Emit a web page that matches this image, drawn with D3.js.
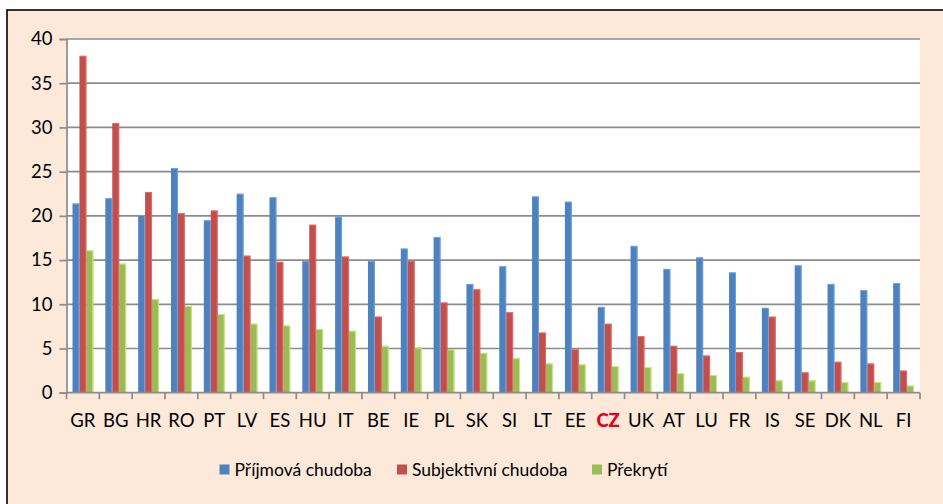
<!DOCTYPE html>
<html>
<head>
<meta charset="utf-8">
<script src="https://cdn.jsdelivr.net/npm/d3@7"></script>
<style>
  html, body { margin: 0; padding: 0; background: #ffffff; }
  svg { display: block; font-family: Lato, "Open Sans", sans-serif; }
</style>
</head>
<body>
<svg id="chart" width="943" height="504"></svg>
<script>
// Countries in display order
const countries = ["GR","BG","HR","RO","PT","LV","ES","HU","IT","BE","IE","PL","SK","SI","LT","EE","CZ","UK","AT","LU","FR","IS","SE","DK","NL","FI"];
// Příjmová chudoba (income poverty), %
const incomePoverty = [21.4,22.0,20.1,25.4,19.5,22.5,22.1,14.9,19.9,14.9,16.3,17.6,12.3,14.3,22.2,21.6,9.7,16.6,14.0,15.3,13.6,9.6,14.4,12.3,11.6,12.4];
// Subjektivní chudoba (subjective poverty), %
const subjectivePoverty = [38.1,30.5,22.7,20.3,20.6,15.5,14.8,19.0,15.4,8.6,14.9,10.2,11.7,9.1,6.8,4.9,7.8,6.4,5.3,4.2,4.6,8.6,2.3,3.5,3.3,2.5];
// Překrytí (overlap), %
const overlap = [16.1,14.6,10.6,9.8,8.9,7.8,7.6,7.2,7.0,5.3,5.1,4.9,4.5,3.9,3.3,3.2,3.0,2.9,2.2,2.0,1.8,1.4,1.4,1.2,1.2,0.8];
const yTicks = [0,5,10,15,20,25,30,35,40];
const seriesNames = ["Příjmová chudoba","Subjektivní chudoba","Překrytí"];
const seriesColors = ["#4f81bd","#c0504d","#9bbb59"];
const highlight = "CZ";

const series = [incomePoverty, subjectivePoverty, overlap];

const svg = d3.select("#chart");
const W = 943, H = 504;

// chart frame
svg.append("rect").attr("x", 7).attr("y", 10).attr("width", W).attr("height", H)
  .attr("fill", "#fde9d9").attr("stroke", "#000").attr("stroke-width", 1.6);

const plot = { left: 66.5, right: 920, top: 39, bottom: 392.7 };

const x0 = d3.scaleBand().domain(countries).range([plot.left, plot.right])
  .paddingInner(0.366).paddingOuter(0.183);
const x1 = d3.scaleBand().domain(d3.range(series.length)).range([0, x0.bandwidth()]);
const y = d3.scaleLinear().domain([0, 40]).range([plot.bottom, plot.top]);

// plot background
svg.append("rect").attr("x", plot.left).attr("y", plot.top)
  .attr("width", plot.right - plot.left).attr("height", plot.bottom - plot.top)
  .attr("fill", "#ffffff");

// horizontal gridlines
svg.append("g").selectAll("line").data(yTicks.filter(d => d > 0)).join("line")
  .attr("x1", plot.left).attr("x2", plot.right)
  .attr("y1", d => y(d)).attr("y2", d => y(d))
  .attr("stroke", "#8c8c8c").attr("stroke-width", 1.7);

// bars
const groups = svg.append("g").selectAll("g").data(countries).join("g")
  .attr("transform", d => `translate(${x0(d)},0)`);
groups.selectAll("rect").data((c, i) => series.map((s, k) => ({ k, v: s[i] }))).join("rect")
  .attr("x", d => x1(d.k))
  .attr("width", x1.bandwidth())
  .attr("y", d => y(d.v))
  .attr("height", d => y(0) - y(d.v))
  .attr("fill", d => seriesColors[d.k]);
// light edge highlight on bar tops/right sides
groups.selectAll("path").data((c, i) => series.map((s, k) => ({ k, v: s[i] }))).join("path")
  .attr("d", d => {
    const xl = x1(d.k) + 0.5, xr = x1(d.k) + x1.bandwidth() - 0.5, yt = y(d.v) + 0.5;
    return `M${xl},${yt}H${xr}V${y(0)}`;
  })
  .attr("fill", "none")
  .attr("stroke", d => d3.color(seriesColors[d.k]).brighter(0.8))
  .attr("stroke-width", 1)
  .attr("opacity", 0.8);

// y axis
const yAxis = svg.append("g").attr("transform", `translate(${plot.left},0)`)
  .call(d3.axisLeft(y).tickValues(yTicks).tickSize(7).tickPadding(7));
yAxis.select(".domain").attr("stroke", "#8c8c8c").attr("stroke-width", 1.7);
yAxis.selectAll(".tick line").attr("stroke", "#8c8c8c").attr("stroke-width", 1.7);
yAxis.selectAll(".tick text").attr("fill", "#000").style("font-size", "18.5px")
  .style("font-family", "Lato, sans-serif");

// x axis: ticks at category boundaries
const boundaries = countries.map(c => x0(c) - x0.step() * x0.paddingInner() / 2).concat([plot.right]);
svg.append("line").attr("x1", plot.left).attr("x2", plot.right)
  .attr("y1", plot.bottom).attr("y2", plot.bottom)
  .attr("stroke", "#8c8c8c").attr("stroke-width", 1.7);
svg.append("g").selectAll("line").data(boundaries).join("line")
  .attr("x1", d => d).attr("x2", d => d)
  .attr("y1", plot.bottom).attr("y2", plot.bottom + 6.5)
  .attr("stroke", "#8c8c8c").attr("stroke-width", 1.7);
svg.append("g").selectAll("text").data(countries).join("text")
  .attr("x", d => x0(d) + x0.bandwidth() / 2)
  .attr("y", 427)
  .attr("text-anchor", "middle")
  .style("font-size", "18.5px")
  .style("font-weight", d => d === highlight ? "900" : "normal")
  .attr("fill", d => d === highlight ? "#e3001b" : "#000")
  .text(d => d);

// legend
const legendX = [219.5, 397, 592];
const legend = svg.append("g").selectAll("g").data(seriesNames).join("g")
  .attr("transform", (d, i) => `translate(${legendX[i]},465)`);
legend.append("rect").attr("width", 10).attr("height", 10).attr("y", -0.5)
  .attr("fill", (d, i) => seriesColors[i]);
legend.append("text").attr("x", 15).attr("y", 11)
  .style("font-size", "17.5px").attr("fill", "#000").text(d => d);
</script>
</body>
</html>
